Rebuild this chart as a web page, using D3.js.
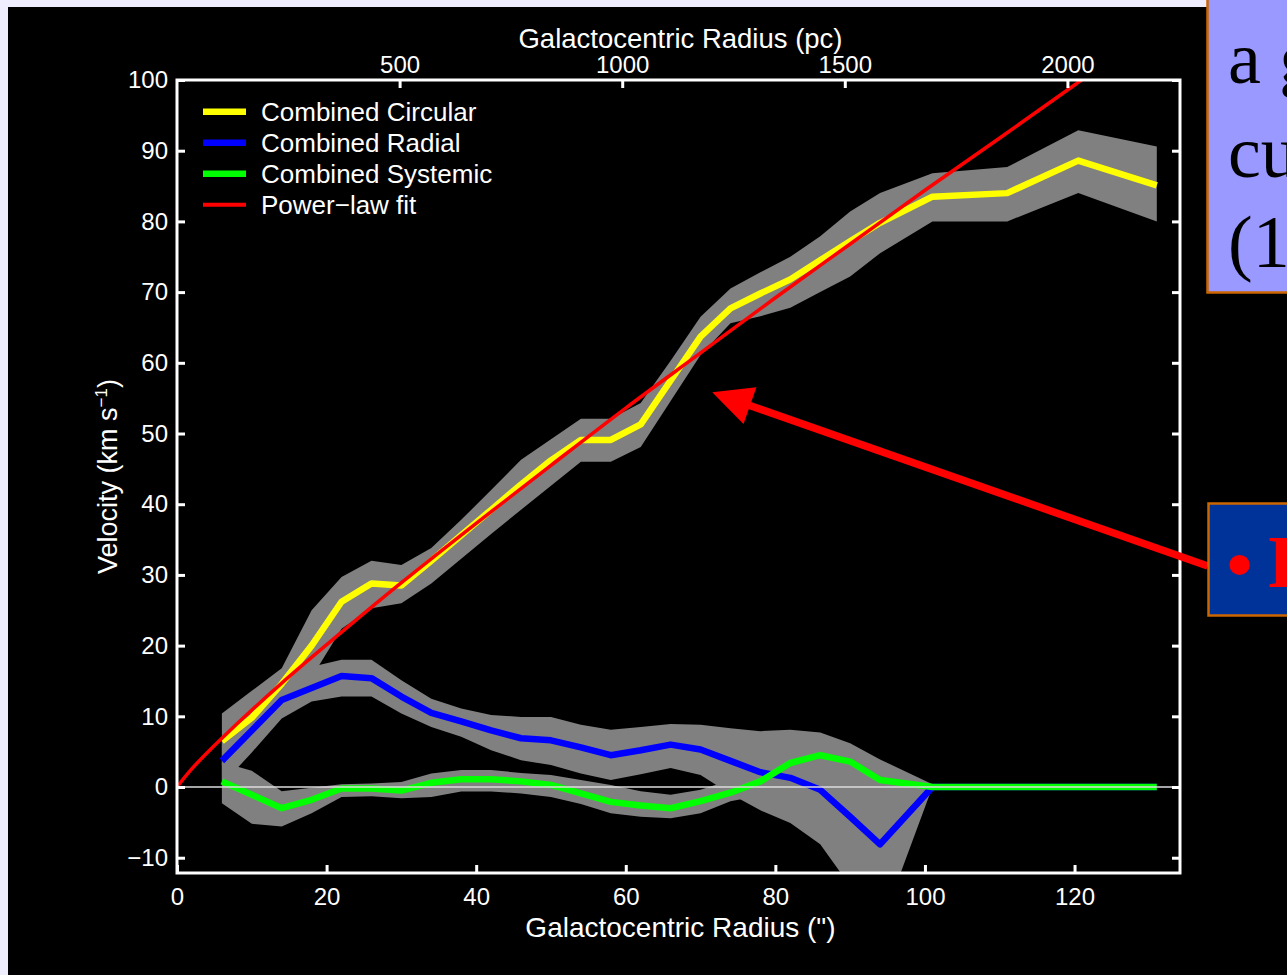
<!DOCTYPE html>
<html>
<head>
<meta charset="utf-8">
<script src="https://cdn.jsdelivr.net/npm/d3@7"></script>
<style>
  html, body { margin: 0; padding: 0; background: #eeeeff; }
  svg { display: block; }
</style>
</head>
<body>
<svg id="chart" width="1287" height="975"></svg>
<script>
// ---- data: rotation-curve components vs. galactocentric radius (arcsec) ----
const radius = [6, 10, 14, 18, 22, 26, 30, 34, 38, 42, 46, 50, 54, 58, 62, 66, 70, 74, 78, 82, 86, 90, 94, 101, 111, 120.5, 131];

const circular     = [6.5, 9.8, 14.6, 20.0, 26.2, 28.8, 28.5, 32.0, 35.6, 39.2, 42.8, 46.2, 49.1, 49.1, 51.3, 57.5, 63.7, 67.7, 69.8, 71.8, 74.5, 77.2, 79.8, 83.5, 84.0, 88.6, 85.1];
const circularHigh = [10.4, 13.6, 16.8, 25.0, 29.7, 32.0, 31.4, 33.8, 37.8, 42.0, 46.3, 49.2, 52.1, 52.1, 54.3, 60.3, 66.5, 70.5, 72.8, 75.0, 77.9, 81.4, 84.0, 86.8, 87.7, 92.9, 90.6];
const circularLow  = [3.0, 6.5, 11.0, 15.5, 22.4, 25.3, 26.0, 28.8, 32.3, 35.8, 39.2, 42.6, 46.0, 46.0, 48.1, 54.6, 61.1, 65.6, 66.6, 67.8, 70.0, 72.2, 75.5, 80.0, 80.0, 84.0, 80.0];

const radial     = [3.7, 8.0, 12.3, 14.0, 15.7, 15.4, 12.8, 10.5, 9.3, 8.0, 6.9, 6.6, 5.6, 4.5, 5.2, 6.0, 5.3, 3.7, 2.1, 1.3, -0.4, -4.2, -8.1, 0, 0, 0, 0];
const radialHigh = [7.0, 11.0, 15.0, 17.0, 18.0, 18.0, 15.1, 12.5, 11.1, 10.2, 9.9, 9.9, 8.8, 8.1, 8.5, 8.9, 8.8, 8.3, 7.9, 8.1, 7.7, 6.2, 3.9, 0.4, 0, 0, 0];
const radialLow  = [0.3, 4.9, 9.7, 12.1, 12.8, 12.8, 10.4, 8.5, 7.1, 5.2, 3.8, 3.1, 1.9, 1.0, 1.8, 2.7, 1.7, -1.0, -3.3, -5.1, -8.1, -14.0, -20.0, 0, 0, 0, 0];

const systemic     = [0.8, -1.1, -3.0, -1.8, -0.2, -0.2, -0.5, 0.6, 1.1, 1.1, 0.8, 0.3, -0.9, -2.1, -2.6, -3.0, -2.0, -0.8, 0.8, 3.4, 4.5, 3.6, 1.0, 0, 0, 0, 0];
const systemicHigh = [3.5, 2.3, -0.6, -0.1, 0.4, 0.5, 0.7, 1.9, 2.4, 2.4, 2.0, 1.7, 1.0, 0.3, -0.6, -1.1, -0.4, 1.0, 2.8, 5.5, 7.0, 6.0, 3.0, 0.2, 0, 0, 0];
const systemicLow  = [-2.3, -5.2, -5.6, -3.7, -1.4, -1.3, -1.6, -1.4, -0.65, -0.65, -0.9, -1.4, -2.4, -3.7, -4.2, -4.4, -3.7, -2.0, -1.2, 1.0, 2.0, 1.5, -0.5, 0, 0, 0, 0];

// power-law fit curve, sampled along its length
const fitRadius   = [0, 2, 6, 14, 22, 30, 40, 50, 60, 70, 80, 90, 100, 110, 120, 122];
const fitVelocity = [0, 2.6, 6.9, 14.7, 21.9, 28.9, 37.3, 45.5, 53.6, 61.4, 69.2, 76.8, 84.4, 91.8, 99.3, 100.8];

// axis ticks
const radiusTicks = [0, 20, 40, 60, 80, 100, 120];
const parsecTicks = [500, 1000, 1500, 2000];
const velocityTicks = [-10, 0, 10, 20, 30, 40, 50, 60, 70, 80, 90, 100];
const parsecPerArcsec = 16.8;

// side panel text
const noteLines = ["a g", "cu", "(1"];
const bulletText = "I";

// ---- layout ----
const W = 1287, H = 975;
const plot = { left: 177, top: 80, right: 1180, bottom: 873 };
const radiusMax = 134.1;
const velocityMin = -12.16, velocityMax = 100;
const sans = "'Liberation Sans', Arial, Helvetica, sans-serif";
const serif = "'Liberation Serif', 'Times New Roman', serif";

const x = d3.scaleLinear().domain([0, radiusMax]).range([plot.left, plot.right]);
const xpc = d3.scaleLinear().domain([0, radiusMax * parsecPerArcsec]).range([plot.left, plot.right]);
const y = d3.scaleLinear().domain([velocityMin, velocityMax]).range([plot.bottom, plot.top]);

const svg = d3.select("#chart");

// black slide panel
svg.append("rect").attr("x", 8).attr("y", 7).attr("width", W - 8).attr("height", H - 7).attr("fill", "#000");

svg.append("defs").append("clipPath").attr("id", "plotClip")
  .append("rect")
  .attr("x", plot.left).attr("y", plot.top)
  .attr("width", plot.right - plot.left).attr("height", plot.bottom - plot.top);

const series = [
  { name: "Combined Circular", color: "#ffff00", values: circular, low: circularLow, high: circularHigh },
  { name: "Combined Radial",   color: "#0000ff", values: radial,   low: radialLow,   high: radialHigh },
  { name: "Combined Systemic", color: "#00ff00", values: systemic, low: systemicLow, high: systemicHigh }
];

const data = svg.append("g").attr("clip-path", "url(#plotClip)");

// uncertainty envelopes
series.forEach(s => {
  const area = d3.area()
    .x((d, i) => x(radius[i]))
    .y0((d, i) => y(s.low[i]))
    .y1((d, i) => y(s.high[i]));
  data.append("path").datum(s.values).attr("d", area).attr("fill", "#808080");
});

// component curves
series.forEach(s => {
  const line = d3.line().x((d, i) => x(radius[i])).y(d => y(d));
  data.append("path").datum(s.values).attr("d", line)
    .attr("fill", "none").attr("stroke", s.color)
    .attr("stroke-width", 6.5).attr("stroke-linejoin", "round");
});

// zero-velocity reference line
data.append("line")
  .attr("x1", plot.left).attr("x2", plot.right)
  .attr("y1", y(0)).attr("y2", y(0))
  .attr("stroke", "#dddddd").attr("stroke-width", 1.5);

// power-law fit
const fitLine = d3.line().curve(d3.curveCatmullRom).x(d => x(d[0])).y(d => y(d[1]));
data.append("path").datum(fitRadius.map((r, i) => [r, fitVelocity[i]]))
  .attr("d", fitLine).attr("fill", "none")
  .attr("stroke", "#ff0000").attr("stroke-width", 3.5);

// ---- axes ----
function styleAxis(g) {
  g.select(".domain").remove();
  g.selectAll(".tick line").attr("stroke", "#fff").attr("stroke-width", 3);
  g.selectAll(".tick text").attr("fill", "#fff").attr("font-family", sans).attr("font-size", 24);
}

svg.append("g").attr("transform", `translate(0,${plot.bottom})`)
  .call(d3.axisBottom(x).tickValues(radiusTicks).tickSize(-8).tickPadding(15).tickFormat(d3.format("d")))
  .call(styleAxis);

svg.append("g").attr("transform", `translate(0,${plot.top})`)
  .call(d3.axisTop(xpc).tickValues(parsecTicks).tickSize(-8).tickPadding(7).tickFormat(d3.format("d")))
  .call(styleAxis);

svg.append("g").attr("transform", `translate(${plot.left},0)`)
  .call(d3.axisLeft(y).tickValues(velocityTicks).tickSize(-8).tickPadding(9).tickFormat(d => d < 0 ? "\u2212" + Math.abs(d) : d))
  .call(styleAxis);

svg.append("g").attr("transform", `translate(${plot.right},0)`)
  .call(d3.axisRight(y).tickValues(velocityTicks).tickSize(-8).tickFormat(""))
  .call(styleAxis);

// axis frame
svg.append("rect")
  .attr("x", plot.left).attr("y", plot.top)
  .attr("width", plot.right - plot.left).attr("height", plot.bottom - plot.top)
  .attr("fill", "none").attr("stroke", "#fff").attr("stroke-width", 3);

// axis titles
const midX = (plot.left + plot.right) / 2;
svg.append("text").attr("x", midX + 2).attr("y", 48)
  .attr("text-anchor", "middle").attr("fill", "#fff")
  .attr("font-family", sans).attr("font-size", 27.5)
  .text("Galactocentric Radius (pc)");

svg.append("text").attr("x", midX + 2).attr("y", 937)
  .attr("text-anchor", "middle").attr("fill", "#fff")
  .attr("font-family", sans).attr("font-size", 28)
  .text("Galactocentric Radius (\")");

const yTitle = svg.append("text")
  .attr("transform", `translate(117,${(plot.top + plot.bottom) / 2}) rotate(-90)`)
  .attr("text-anchor", "middle").attr("fill", "#fff")
  .attr("font-family", sans).attr("font-size", 27);
yTitle.append("tspan").text("Velocity (km s");
yTitle.append("tspan").attr("dy", -10).attr("font-size", 17).text("\u22121");
yTitle.append("tspan").attr("dy", 10).text(")");

// ---- legend ----
const legendItems = [
  ...series.map(s => ({ name: s.name, color: s.color, width: 6.5 })),
  { name: "Power\u2212law fit", color: "#ff0000", width: 4 }
];
const legend = svg.append("g");
legendItems.forEach((d, i) => {
  const ly = 111.7 + i * 31;
  legend.append("line").attr("x1", 203).attr("x2", 246).attr("y1", ly).attr("y2", ly)
    .attr("stroke", d.color).attr("stroke-width", d.width);
  legend.append("text").attr("x", 261).attr("y", ly + 9)
    .attr("fill", "#fff").attr("font-family", sans).attr("font-size", 26)
    .text(d.name);
});

// ---- annotation arrow ----
const arrowTip = { r: 71.56, v: 55.83 };
const arrowTail = { r: 137.8, v: 31.26 };
const tip = [x(arrowTip.r), y(arrowTip.v)];
const tail = [x(arrowTail.r), y(arrowTail.v)];
const dx = tip[0] - tail[0], dy = tip[1] - tail[1];
const len = Math.hypot(dx, dy);
const ux = dx / len, uy = dy / len;
const headLen = 40, headHalf = 19.5;
const base = [tip[0] - ux * headLen, tip[1] - uy * headLen];
svg.append("line")
  .attr("x1", tail[0]).attr("y1", tail[1])
  .attr("x2", base[0] + ux * 4).attr("y2", base[1] + uy * 4)
  .attr("stroke", "#ff0000").attr("stroke-width", 7.5);
svg.append("polygon")
  .attr("points", [
    tip,
    [base[0] - uy * headHalf, base[1] + ux * headHalf],
    [base[0] + uy * headHalf, base[1] - ux * headHalf]
  ].map(p => p.join(",")).join(" "))
  .attr("fill", "#ff0000");

// ---- side panels ----
svg.append("rect").attr("x", 1207.5).attr("y", -4).attr("width", 100).attr("height", 296.5)
  .attr("fill", "#9999ff").attr("stroke", "#cc6600").attr("stroke-width", 2.5);
const noteBaselines = [83, 177, 267];
noteLines.forEach((t, i) => {
  svg.append("text").attr("x", 1228).attr("y", noteBaselines[i])
    .attr("fill", "#000").attr("font-family", serif).attr("font-size", 74)
    .attr("xml:space", "preserve").style("white-space", "pre")
    .text(t);
});

svg.append("rect").attr("x", 1208.5).attr("y", 503.5).attr("width", 100).attr("height", 112)
  .attr("fill", "#003399").attr("stroke", "#cc6600").attr("stroke-width", 2.5);
svg.append("text").attr("x", 1226.5).attr("y", 590)
  .attr("fill", "#ff0000").attr("font-family", serif).attr("font-size", 75).attr("font-weight", "bold")
  .text("\u2022");
svg.append("text").attr("x", 1267).attr("y", 587)
  .attr("fill", "#ff0000").attr("font-family", serif).attr("font-size", 75).attr("font-weight", "bold")
  .text(bulletText);
</script>
</body>
</html>
